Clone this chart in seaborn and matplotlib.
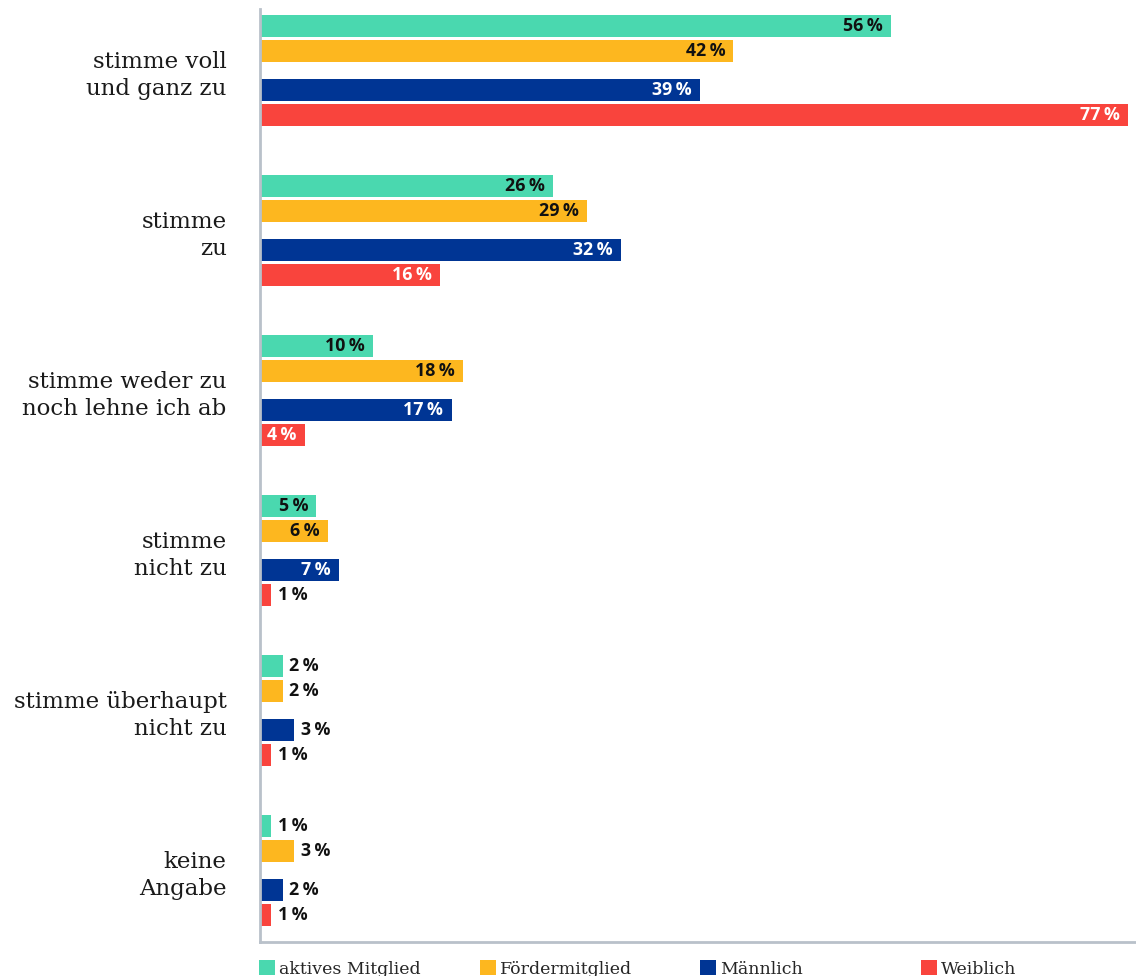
import matplotlib
matplotlib.use("Agg")
import matplotlib.pyplot as plt
import seaborn as sns
import pandas as pd
from matplotlib.patches import Patch

categories = ["stimme voll\nund ganz zu", "stimme\nzu", "stimme weder zu\nnoch lehne ich ab",
              "stimme\nnicht zu", "stimme überhaupt\nnicht zu", "keine\nAngabe"]
series = ["aktives Mitglied", "Fördermitglied", "Männlich", "Weiblich"]
aktiv = [56, 26, 10, 5, 2, 1]
foerder = [42, 29, 18, 6, 2, 3]
maennlich = [39, 32, 17, 7, 3, 2]
weiblich = [77, 16, 4, 1, 1, 1]
values = [aktiv, foerder, maennlich, weiblich]
colors = ["#4AD8AF", "#FDB71F", "#003594", "#F9443D"]
label_colors_inside = ["#111111", "#111111", "#FFFFFF", "#FFFFFF"]
offsets = [-0.278, -0.122, 0.122, 0.278]
bar_h = 0.1375

sns.set_style("white")
W, H = 1136, 976
fig = plt.figure(figsize=(W / 100, H / 100), dpi=100)
ax = fig.add_axes([260 / W, 1 - 942 / H, 1 - 260 / W, (942 - 9) / H])

px_per_unit = 11.26
xmax = (W - 261) / px_per_unit

for s, vals, col, lc, off in zip(series, values, colors, label_colors_inside, offsets):
    df = pd.DataFrame({"pos": [i + off for i in range(len(categories))], "value": vals})
    sns.barplot(data=df, x="value", y="pos", orient="y", native_scale=True,
                width=bar_h, color=col, saturation=1, ax=ax, errorbar=None,
                linewidth=0, edgecolor="none")
    for i, v in enumerate(vals):
        txt = f"{v}\u2009%"
        if v >= 4:
            ax.annotate(txt, xy=(v, i + off), xytext=(-6, 0), textcoords="offset points",
                        ha="right", va="center", color=lc, fontsize=12.8,
                        fontweight="bold", family=["Open Sans", "DejaVu Sans"])
        else:
            ax.annotate(txt, xy=(v, i + off), xytext=(5, 0), textcoords="offset points",
                        ha="left", va="center", color="#111111", fontsize=12.8,
                        fontweight="bold", family=["Open Sans", "DejaVu Sans"])

ax.set_xlim(0, xmax)
ax.set_ylim((942 - 70.5) / 160, (9 - 70.5) / 160)
ax.set_yticks(range(len(categories)))
ax.set_yticklabels(categories, family="DejaVu Serif", fontsize=16.5, color="#1a1a1a",
                   linespacing=1.32)
ax.tick_params(axis="y", length=0, pad=24)
ax.set_xticks([])
ax.set_xlabel("")
ax.set_ylabel("")
for side in ["top", "right"]:
    ax.spines[side].set_visible(False)
for side in ["left", "bottom"]:
    ax.spines[side].set_color("#B9C1CA")
    ax.spines[side].set_linewidth(2)

legend_x = [259, 480, 700, 921]
for s, col, lx in zip(series, colors, legend_x):
    fig.legend(handles=[Patch(facecolor=col, edgecolor="none", label=s)],
               loc="center left", bbox_to_anchor=(lx / W, 1 - 969 / H),
               frameon=False, borderpad=0, borderaxespad=0, handletextpad=0.25,
               handlelength=0.9, handleheight=0.9,
               prop={"family": "DejaVu Serif", "size": 12.5})

fig.savefig("out.png", dpi=100)
